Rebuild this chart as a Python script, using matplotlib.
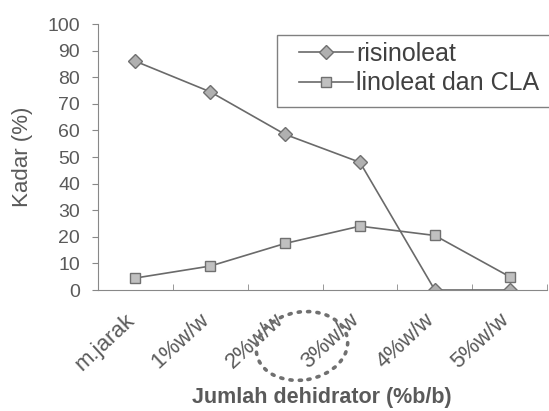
import matplotlib
matplotlib.use("Agg")
import matplotlib.pyplot as plt
from matplotlib.patches import Ellipse, Rectangle
from matplotlib.transforms import IdentityTransform

plt.rcParams['font.family'] = ['Liberation Sans', 'DejaVu Sans']

# data
categories = ["m.jarak", "1%w/w", "2%w/w", "3%w/w", "4%w/w", "5%w/w"]
risinoleat = [86, 74.5, 58.5, 48, 0, 0]
linoleat_cla = [4.5, 9, 17.5, 24, 20.5, 5]

text_col = "#5a5a5a"
line_col = "#6a6a6a"

fig = plt.figure(figsize=(5.49, 4.11), dpi=100)
ax = fig.add_axes([0.1785, 0.2944, 0.818, 0.6472])

x = range(len(categories))
ax.plot(x, risinoleat, color=line_col, lw=1.2, marker="D", ms=7,
        mfc="#b0b0b0", mec="#707070", label="risinoleat")
ax.plot(x, linoleat_cla, color=line_col, lw=1.2, marker="s", ms=7.5,
        mfc="#c0c0c0", mec="#707070", label="linoleat dan CLA")

ax.set_xlim(-0.5, len(categories) - 0.5)
ax.set_ylim(0, 100)
ax.set_yticks(range(0, 101, 10))
ax.set_xticks(x)
ax.set_xticklabels([])
ax.set_xticks([i + 0.5 for i in x], minor=True)
# category labels, slanted like the Excel original
for i, cat in enumerate(categories):
    ax.annotate(cat, xy=(i, 0), xycoords=("data", "axes fraction"),
                xytext=(-8, -14), textcoords="offset points", rotation=43,
                ha="right", va="top", rotation_mode="anchor",
                fontsize=16, color=text_col)
ax.tick_params(axis="x", which="major", length=0)
ax.tick_params(axis="x", which="minor", length=4, direction="in", color="#888888")
ax.tick_params(axis="y", labelsize=14, labelcolor=text_col, length=4,
               direction="out", color="#888888", pad=9)
for s in ["top", "right"]:
    ax.spines[s].set_visible(False)
for s in ["left", "bottom"]:
    ax.spines[s].set_color("#888888")

ax.set_ylabel("Kadar (%)", fontsize=16, color=text_col, labelpad=10)
# x title sits under the middle of the axis
fig.text(322 / 549, 1 - 397 / 411, "Jumlah dehidrator (%b/b)",
         fontsize=15.5, fontweight="bold", color=text_col, ha="center", va="center")

# legend box runs off the right edge in the scan
fig.add_artist(Rectangle((277, 411 - 107), 300, 72, transform=IdentityTransform(),
                         fill=False, ec="#808080", lw=1.0))
leg = fig.legend(loc="upper left", bbox_to_anchor=(299 / 549, 1 - 42 / 411),
                 fontsize=18, frameon=False, handlelength=2.15,
                 handletextpad=0.12, borderpad=0, labelspacing=0.22,
                 borderaxespad=0)
for t in leg.get_texts():
    t.set_color("#404040")

# hand-drawn dotted circle around 3%w/w
ell = Ellipse((302, 411 - 346), 92, 68, angle=10,
              transform=IdentityTransform(), fill=False, ls=(0, (0.6, 2.0)),
              lw=2.6, ec="#707070", capstyle="round")
fig.add_artist(ell)

fig.savefig("out.png", dpi=100)
